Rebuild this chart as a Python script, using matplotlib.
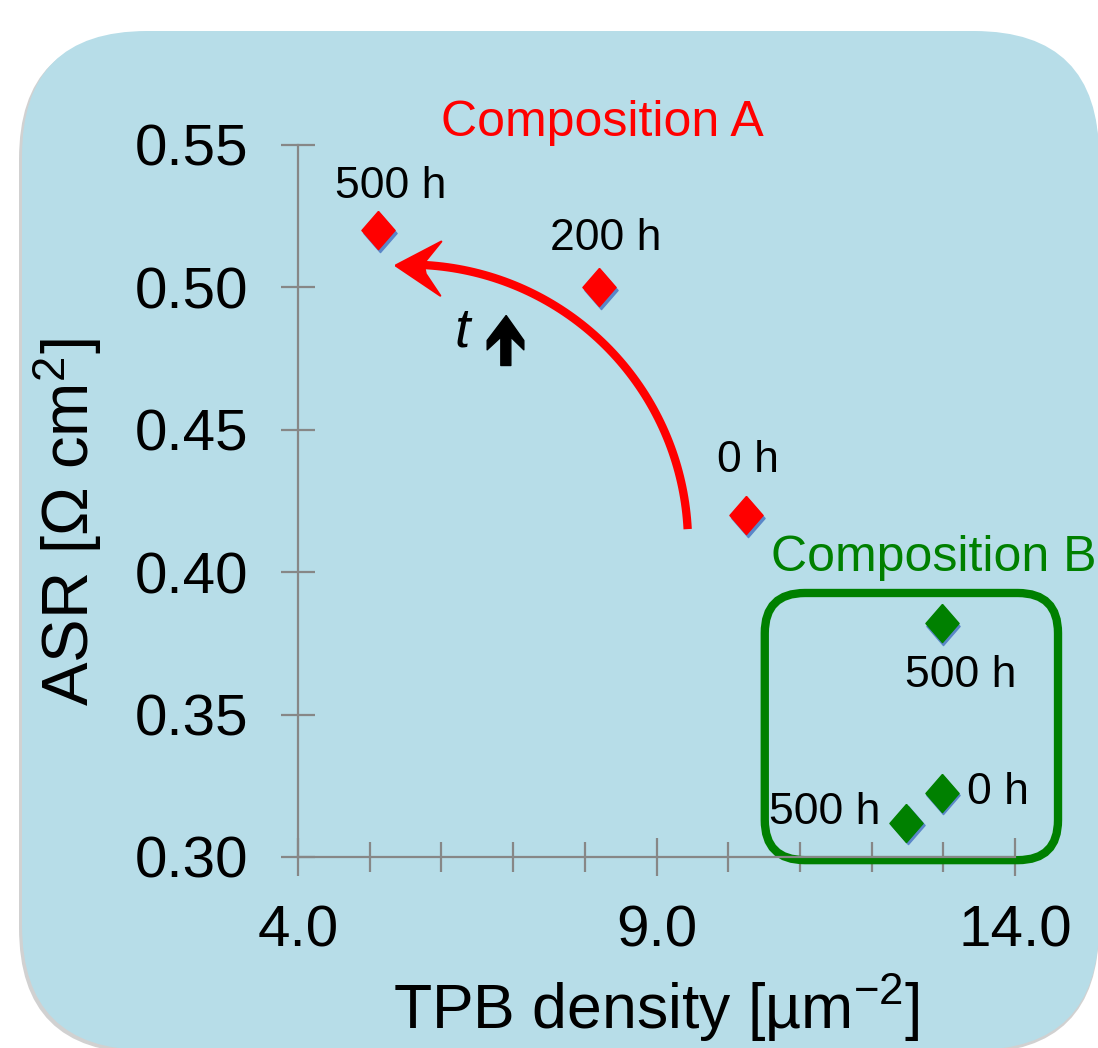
import numpy as np
import matplotlib
matplotlib.use("Agg")
import matplotlib.pyplot as plt
from matplotlib.patches import FancyBboxPatch
from matplotlib.path import Path
from matplotlib.transforms import IdentityTransform, offset_copy

# data
a_tpb = [10.25, 8.2, 5.12]
a_asr = [0.42, 0.50, 0.52]
a_labels = ["0 h", "200 h", "500 h"]
a_offsets = [(2, 55), (7, 49), (12, 44)]      # label offsets in px

b_tpb = [12.98, 12.98, 12.48]
b_asr = [0.3225, 0.382, 0.312]
b_labels = ["0 h", "500 h", "500 h"]
b_offsets = [(56, 0), (19, -52), (-81, 10)]

x_ticks = [4.0, 9.0, 14.0]
x_ticklabels = ["4.0", "9.0", "14.0"]
x_minor = np.arange(4, 15, 1)
y_ticks = [0.30, 0.35, 0.40, 0.45, 0.50, 0.55]

RED = "#ff0000"
GREEN = "#008000"
GREY = "#878787"
BG = "#b7dde8"

plt.rcParams["font.family"] = ["Liberation Sans", "DejaVu Sans"]
plt.rcParams["mathtext.default"] = "regular"

W, H = 1098, 1048
fig = plt.figure(figsize=(W / 100, H / 100), dpi=100)

# rounded light blue panel with a soft shadow on the left / bottom
shadow = FancyBboxPatch((19, H - 1053), 1080, 1019, boxstyle="round,pad=0,rounding_size=125",
                        transform=IdentityTransform(), fc="#9a9a9a", ec="none", alpha=0.45, zorder=-3)
panel = FancyBboxPatch((22, H - 1050), 1077, 1019, boxstyle="round,pad=0,rounding_size=125",
                       transform=IdentityTransform(), fc=BG, ec="none", zorder=-2)
fig.add_artist(shadow)
fig.add_artist(panel)

ax = fig.add_axes([298 / W, 1 - 857 / H, (1015 - 298) / W, (857 - 145) / H])
ax.patch.set_visible(False)
ax.set_xlim(4, 14)
ax.set_ylim(0.30, 0.55)
for s in ["top", "right"]:
    ax.spines[s].set_visible(False)
for s in ["left", "bottom"]:
    ax.spines[s].set_color(GREY)
    ax.spines[s].set_linewidth(1.6)

ax.set_xticks(x_ticks)
ax.set_xticklabels(x_ticklabels)
ax.set_xticks(x_minor, minor=True)
ax.set_yticks(y_ticks)
ax.set_yticklabels(["%.2f" % v for v in y_ticks])
ax.tick_params(axis="x", which="major", direction="inout", length=28, width=1.6,
               color=GREY, labelsize=42, pad=20)
ax.tick_params(axis="x", which="minor", direction="inout", length=21, width=1.6, color=GREY)
ax.tick_params(axis="y", which="major", direction="inout", length=24, width=1.6,
               color=GREY, labelsize=42, pad=24)

ax.set_xlabel("TPB density [\u00b5m$^{\u22122}$]", fontsize=45)
ax.xaxis.set_label_coords(0.5, -0.162)
ax.xaxis.label.set_va("top")
ax.set_ylabel("ASR [\u03a9 cm$^2$]", fontsize=47)
ax.yaxis.set_label_coords(-0.27, 0.47)

# diamond markers with a slight blue drop shadow
diamond = Path([(0, 19), (16.5, 0), (0, -19), (-16.5, 0), (0, 19)])
shade = offset_copy(ax.transData, fig=fig, x=1.5, y=-2.5, units="dots")
for xs, ys, c in [(a_tpb, a_asr, RED), (b_tpb, b_asr, GREEN)]:
    ax.plot(xs, ys, ls="none", marker=diamond, ms=27.5, color="#5a86c8",
            transform=shade, clip_on=False, zorder=3)
    ax.plot(xs, ys, ls="none", marker=diamond, ms=27.5, color=c, clip_on=False, zorder=4)

for xs, ys, labs, offs in [(a_tpb, a_asr, a_labels, a_offsets), (b_tpb, b_asr, b_labels, b_offsets)]:
    for x, y, lab, off in zip(xs, ys, labs, offs):
        ax.annotate(lab, (x, y), xytext=off, textcoords="offset pixels",
                    ha="center", va="center", fontsize=32, color="black", zorder=5)

ax.text(8.25, 0.5577, "Composition A", color=RED, fontsize=36, ha="center", va="center")
ax.text(10.6, 0.405, "Composition B", color=GREEN, fontsize=36, ha="left", va="center",
        clip_on=False)

# green rounded box around composition B
box = FancyBboxPatch((10.51, 0.2989), 14.60 - 10.51, 0.3927 - 0.2989,
                     boxstyle="round,pad=0,rounding_size=0.56", mutation_aspect=71.7 / 2848,
                     fc="none", ec=GREEN, lw=6, clip_on=False, zorder=2)
ax.add_patch(box)

# curved red arrow (time direction): arc plus a notched head
cx, cy, rx, ry = 5.55, 0.41, 3.89, 0.098
theta = np.radians(np.linspace(3, 88.5, 80))
ax.plot(cx + rx * np.cos(theta), cy + ry * np.sin(theta), color=RED, lw=6,
        solid_capstyle="butt", zorder=3)
tip = np.radians(93)
head = Path([(0, 0), (44, 23), (27, 2), (29, -8), (43, -29), (0, 0)])
ax.plot([cx + rx * np.cos(tip)], [cy + ry * np.sin(tip)], ls="none", marker=head,
        ms=66, color=RED, mew=1.5, zorder=3)

ax.text(6.29, 0.484, "t", fontsize=40, style="italic", ha="center", va="center")
up = Path([(2, 75), (55, 0), (55, -28), (16, 10), (16, -75), (-14, -75), (-14, 10),
           (-55, -28), (-55, 0), (2, 75)])
ax.plot([6.89], [0.4815], ls="none", marker=up, ms=36, color="black", clip_on=False)

fig.savefig("out.png", dpi=100)
